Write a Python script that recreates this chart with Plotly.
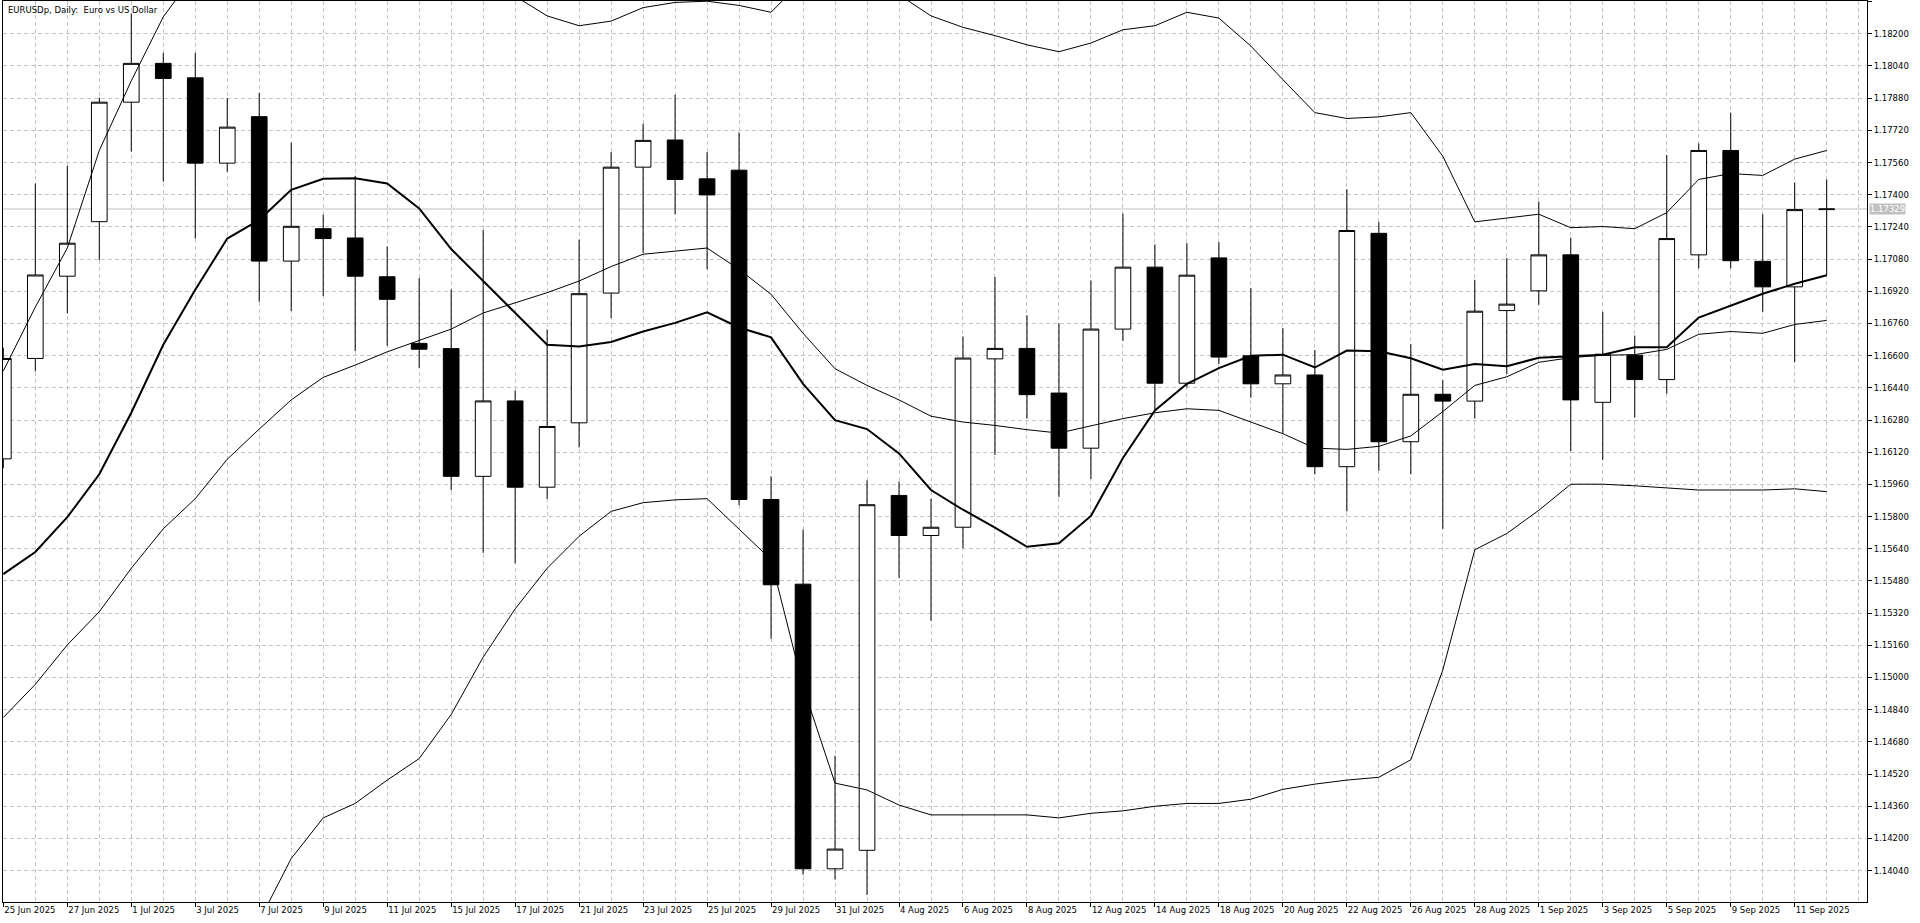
import plotly.graph_objects as go

# bar dates (daily, trading days only)
dates = ["25 Jun 2025", "26 Jun 2025", "27 Jun 2025", "30 Jun 2025", "1 Jul 2025", "2 Jul 2025",
         "3 Jul 2025", "4 Jul 2025", "7 Jul 2025", "8 Jul 2025", "9 Jul 2025", "10 Jul 2025",
         "11 Jul 2025", "14 Jul 2025", "15 Jul 2025", "16 Jul 2025", "17 Jul 2025", "18 Jul 2025",
         "21 Jul 2025", "22 Jul 2025", "23 Jul 2025", "24 Jul 2025", "25 Jul 2025", "28 Jul 2025",
         "29 Jul 2025", "30 Jul 2025", "31 Jul 2025", "1 Aug 2025", "4 Aug 2025", "5 Aug 2025",
         "6 Aug 2025", "7 Aug 2025", "8 Aug 2025", "11 Aug 2025", "12 Aug 2025", "13 Aug 2025",
         "14 Aug 2025", "15 Aug 2025", "18 Aug 2025", "19 Aug 2025", "20 Aug 2025", "21 Aug 2025",
         "22 Aug 2025", "25 Aug 2025", "26 Aug 2025", "27 Aug 2025", "28 Aug 2025", "29 Aug 2025",
         "1 Sep 2025", "2 Sep 2025", "3 Sep 2025", "4 Sep 2025", "5 Sep 2025", "8 Sep 2025",
         "9 Sep 2025", "10 Sep 2025", "11 Sep 2025", "12 Sep 2025"]

opens = [1.16087, 1.16586, 1.16995, 1.17266, 1.17860, 1.18053, 1.17981, 1.17557, 1.17788, 1.17070,
         1.17231, 1.17185, 1.16992, 1.16661, 1.16635, 1.16000, 1.16375, 1.15946, 1.16266, 1.16911,
         1.17537, 1.17672, 1.17479, 1.17522, 1.15885, 1.15464, 1.14049, 1.14141, 1.15905, 1.15706,
         1.15747, 1.16584, 1.16636, 1.16414, 1.16140, 1.16732, 1.17040, 1.16463, 1.17086, 1.16599,
         1.16460, 1.16504, 1.16048, 1.17208, 1.16172, 1.16408, 1.16374, 1.16824, 1.16922, 1.17101,
         1.16368, 1.16602, 1.16481, 1.17101, 1.17620, 1.17069, 1.16942, 1.17326]
highs = [1.16640, 1.17456, 1.17543, 1.17883, 1.18301, 1.18105, 1.18105, 1.17880, 1.17906, 1.17658,
         1.17301, 1.17494, 1.17142, 1.16986, 1.16929, 1.17226, 1.16427, 1.16730, 1.17177, 1.17612,
         1.17753, 1.17897, 1.17612, 1.17710, 1.16000, 1.15735, 1.14611, 1.15980, 1.15974, 1.15888,
         1.16695, 1.16991, 1.16801, 1.16760, 1.16974, 1.17306, 1.17153, 1.17159, 1.17164, 1.16936,
         1.16737, 1.16628, 1.17427, 1.17265, 1.16657, 1.16478, 1.16977, 1.17086, 1.17366, 1.17187,
         1.16818, 1.16700, 1.17597, 1.17655, 1.17808, 1.17303, 1.17461, 1.17476]
lows = [1.16040, 1.16522, 1.16810, 1.17076, 1.17615, 1.17465, 1.17182, 1.17514, 1.16868, 1.16822,
        1.16897, 1.16623, 1.16649, 1.16539, 1.15931, 1.15620, 1.15568, 1.15888, 1.16144, 1.16787,
        1.17110, 1.17303, 1.17030, 1.15856, 1.15193, 1.14020, 1.13997, 1.13919, 1.15496, 1.15282,
        1.15643, 1.16106, 1.16287, 1.15898, 1.15987, 1.16674, 1.16331, 1.16443, 1.16558, 1.16391,
        1.16212, 1.16010, 1.15826, 1.16028, 1.16010, 1.15739, 1.16287, 1.16509, 1.16853, 1.16126,
        1.16082, 1.16293, 1.16411, 1.17034, 1.17034, 1.16818, 1.16567, 1.17000]
closes = [1.16586, 1.17001, 1.17159, 1.17860, 1.18053, 1.17978, 1.17557, 1.17736, 1.17070, 1.17243,
          1.17182, 1.16995, 1.16880, 1.16632, 1.16000, 1.16375, 1.15946, 1.16248, 1.16908, 1.17537,
          1.17670, 1.17476, 1.17399, 1.15885, 1.15461, 1.14049, 1.14147, 1.15859, 1.15706, 1.15747,
          1.16588, 1.16636, 1.16406, 1.16140, 1.16732, 1.17040, 1.16463, 1.17000, 1.16593, 1.16460,
          1.16504, 1.16048, 1.17222, 1.16172, 1.16408, 1.16374, 1.16821, 1.16856, 1.17101, 1.16380,
          1.16607, 1.16481, 1.17182, 1.17620, 1.17072, 1.16942, 1.17326, 1.17329]

# fast moving average (thick line)
ma_fast = [1.15514, 1.15624, 1.15797, 1.16010, 1.16316, 1.16654, 1.16928, 1.17182, 1.17274, 1.17424,
           1.17479, 1.17482, 1.17456, 1.17332, 1.17130, 1.16971, 1.16812, 1.16654, 1.16645, 1.16668,
           1.16720, 1.16763, 1.16815, 1.16740, 1.16691, 1.16460, 1.16279, 1.16235, 1.16114, 1.15932,
           1.15834, 1.15745, 1.15650, 1.15667, 1.15803, 1.16091, 1.16328, 1.16460, 1.16538, 1.16599,
           1.16605, 1.16541, 1.16625, 1.16622, 1.16587, 1.16530, 1.16558, 1.16547, 1.16590, 1.16596,
           1.16605, 1.16642, 1.16642, 1.16789, 1.16850, 1.16908, 1.16957, 1.17000]

# bollinger bands
bb_mid = [1.14801, 1.14966, 1.15162, 1.15327, 1.15543, 1.15739, 1.15889, 1.16085, 1.16235, 1.16380,
          1.16492, 1.16553, 1.16619, 1.16674, 1.16732, 1.16812, 1.16864, 1.16913, 1.16971, 1.17043,
          1.17104, 1.17121, 1.17135, 1.17029, 1.16905, 1.16711, 1.16535, 1.16452, 1.16380, 1.16299,
          1.16270, 1.16253, 1.16232, 1.16215, 1.16250, 1.16287, 1.16316, 1.16336, 1.16328, 1.16270,
          1.16212, 1.16140, 1.16134, 1.16149, 1.16201, 1.16322, 1.16452, 1.16495, 1.16567, 1.16590,
          1.16602, 1.16605, 1.16631, 1.16706, 1.16720, 1.16711, 1.16755, 1.16775]
bb_upper = [1.16524, 1.16841, 1.17135, 1.17620, 1.17966, 1.18284, 1.18500, 1.18620, 1.18680, 1.18660,
            1.18682, 1.18732, 1.18748, 1.18751, 1.18648, 1.18523, 1.18387, 1.18289, 1.18240, 1.18263,
            1.18330, 1.18356, 1.18362, 1.18341, 1.18307, 1.18468, 1.18595, 1.18463, 1.18394, 1.18289,
            1.18232, 1.18191, 1.18145, 1.18111, 1.18154, 1.18220, 1.18240, 1.18307, 1.18278, 1.18139,
            1.17972, 1.17808, 1.17779, 1.17787, 1.17808, 1.17591, 1.17265, 1.17283, 1.17303, 1.17236,
            1.17242, 1.17231, 1.17311, 1.17476, 1.17505, 1.17496, 1.17577, 1.17620]
bb_lower = [1.13078, 1.13091, 1.13189, 1.13034, 1.13120, 1.13194, 1.13280, 1.13550, 1.13790, 1.14100,
            1.14302, 1.14374, 1.14490, 1.14597, 1.14816, 1.15101, 1.15341, 1.15543, 1.15702, 1.15826,
            1.15869, 1.15883, 1.15889, 1.15739, 1.15586, 1.14954, 1.14475, 1.14441, 1.14366, 1.14317,
            1.14317, 1.14317, 1.14317, 1.14302, 1.14325, 1.14337, 1.14360, 1.14374, 1.14374, 1.14395,
            1.14444, 1.14470, 1.14490, 1.14504, 1.14591, 1.15038, 1.15635, 1.15716, 1.15831, 1.15961,
            1.15961, 1.15953, 1.15941, 1.15932, 1.15932, 1.15932, 1.15938, 1.15924]

last_price = 1.17329
y_min, y_max = 1.13884, 1.18363
x_min, x_max = -0.01, 58.26

FONT = "DejaVu Sans"
GRID = "#c4c4c4"

bars = list(range(len(dates)))

fig = go.Figure()

# candles
fig.add_trace(go.Candlestick(
    x=bars, open=opens, high=highs, low=lows, close=closes,
    increasing=dict(fillcolor="white", line=dict(color="black", width=1)),
    decreasing=dict(fillcolor="black", line=dict(color="black", width=1)),
    whiskerwidth=0, hoverinfo="skip", showlegend=False))

# indicator lines drawn over the candles
for vals, w in [(bb_upper, 1), (bb_mid, 1), (bb_lower, 1), (ma_fast, 2)]:
    fig.add_trace(go.Scatter(x=bars, y=vals, mode="lines",
                             line=dict(color="black", width=w),
                             hoverinfo="skip", showlegend=False))

# bid line + price tag on the axis
fig.add_shape(type="line", xref="paper", x0=0, x1=1, yref="y", y0=last_price, y1=last_price,
              line=dict(color="#c0c0c0", width=1), layer="below")

fig.add_annotation(xref="paper", x=1, xanchor="left", xshift=2, yref="y", y=last_price,
                   text=f"{last_price:.5f}", showarrow=False, bgcolor="#c0c0c0",
                   borderpad=0, font=dict(family=FONT, size=8.5, color="white"))

fig.add_annotation(xref="paper", x=0, xanchor="left", xshift=3, yref="paper", y=1,
                   yanchor="top", yshift=-2, showarrow=False,
                   text="EURUSDp, Daily:\u00a0\u00a0Euro vs US Dollar",
                   font=dict(family=FONT, size=8.5, color="black"))

fig.update_layout(
    width=1920, height=923,
    margin=dict(l=3, r=53, t=1, b=21),
    paper_bgcolor="white", plot_bgcolor="white",
    font=dict(family=FONT, size=8.5, color="black"),
    hovermode=False, boxgap=0.3,
)

fig.update_xaxes(
    range=[x_min, x_max], rangeslider_visible=False,
    tickmode="array", tickvals=bars[::2], ticktext=dates[::2],
    ticks="outside", ticklen=4, tickcolor="black", ticklabelposition="outside right",
    showgrid=True, gridcolor=GRID, griddash="4px,3px", gridwidth=1,
    minor=dict(tickmode="array", tickvals=list(range(len(dates) + 1)), showgrid=True,
               gridcolor=GRID, griddash="4px,3px", ticklen=0),
    showline=True, linecolor="black", linewidth=1, mirror=True, zeroline=False,
)

fig.update_yaxes(
    range=[y_min, y_max], side="right",
    tick0=1.14040, dtick=0.0016, tickformat=".5f",
    ticks="outside", ticklen=4, tickcolor="black",
    showgrid=True, gridcolor=GRID, griddash="4px,3px", gridwidth=1,
    showline=True, linecolor="black", linewidth=1, mirror=True, zeroline=False,
)

# page body has a default 8px margin; drop it so the chart sits at the window origin
fig.write_html("out.html", config={"displayModeBar": False},
               post_script="document.body.style.margin='0';")
